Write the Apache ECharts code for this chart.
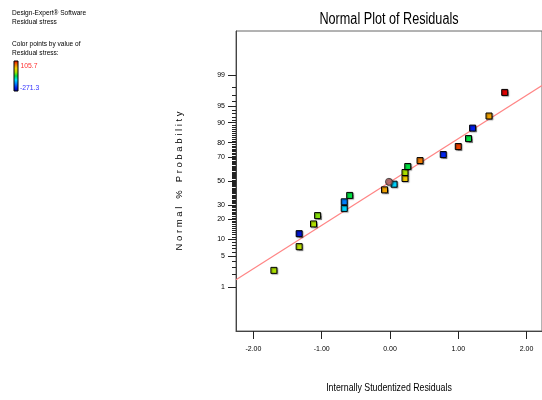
<!DOCTYPE html>
<html>
<head>
<meta charset="utf-8">
<script src="https://cdn.jsdelivr.net/npm/echarts@6/dist/echarts.min.js"></script>
<style>html,body{margin:0;padding:0;background:#fff;}#chart{width:542px;height:400px;}</style>
</head>
<body>
<div id="chart"></div>
<script>
// ---- data ----
const residuals     = [-1.70, -1.33, -1.33, -1.12, -1.06, -0.67, -0.67, -0.59, -0.08, 0.06, 0.22, 0.22, 0.26, 0.44, 0.78, 1.00, 1.15, 1.21, 1.45, 1.68];
const probabilities = [2.5, 7.5, 12.4, 17.3, 22.4, 27.4, 32.4, 37.6, 42.3, 47.2, 52.2, 57.4, 62.5, 67.3, 71.9, 77.5, 82.4, 87.7, 92.3, 97.4];
const stressValues  = [-34, -23, -241, -30, -45, -136, -177, -83, 34, -136, 15, -34, -83, 53, -222, 79, -83, -226, 34, 105.7];
const highlightResidual = [-0.015];
const highlightProbability = [49.3];
const fitLineResiduals = [-2.255, 2.226];
const fitLineProbabilities = [1.52, 98.18];
const stressRange = [-271.3, 105.7];
const yTickLabels = [1, 5, 10, 20, 30, 50, 70, 80, 90, 95, 99];
const xTickValues = [-2, -1, 0, 1, 2];

// inverse normal CDF (probability paper scale)
function probit(p) {
  const a=[-3.969683028665376e+01,2.209460984245205e+02,-2.759285104469687e+02,1.383577518672690e+02,-3.066479806614716e+01,2.506628277459239e+00];
  const b=[-5.447609879822406e+01,1.615858368580409e+02,-1.556989798598866e+02,6.680131188771972e+01,-1.328068155288572e+01];
  const c=[-7.784894002430293e-03,-3.223964580411365e-01,-2.400758277161838e+00,-2.549732539343734e+00,4.374664141464968e+00,2.938163982698783e+00];
  const d=[7.784695709041462e-03,3.224671290700398e-01,2.445134137142996e+00,3.754408661907416e+00];
  const pl=0.02425, ph=1-pl; let q, r;
  if (p < pl) { q=Math.sqrt(-2*Math.log(p)); return (((((c[0]*q+c[1])*q+c[2])*q+c[3])*q+c[4])*q+c[5])/((((d[0]*q+d[1])*q+d[2])*q+d[3])*q+1); }
  if (p <= ph) { q=p-0.5; r=q*q; return (((((a[0]*r+a[1])*r+a[2])*r+a[3])*r+a[4])*r+a[5])*q/(((((b[0]*r+b[1])*r+b[2])*r+b[3])*r+b[4])*r+1); }
  q=Math.sqrt(-2*Math.log(1-p)); return -(((((c[0]*q+c[1])*q+c[2])*q+c[3])*q+c[4])*q+c[5])/((((d[0]*q+d[1])*q+d[2])*q+d[3])*q+1);
}
const z = p => probit(p / 100);

const majorZ = yTickLabels.map(z);
const minorZ = [];
for (let p = 2; p <= 98; p++) if (yTickLabels.indexOf(p) < 0) minorZ.push(z(p));

const FONT = '"Liberation Sans", Arial, sans-serif';
const palette = ['#0000a0','#0020f0','#0080ff','#00e0ff','#00e040','#a8e000','#f0d000','#f07000','#e00000'];

const pointData = residuals.map((x, i) => [x, z(probabilities[i]), stressValues[i]]);
const circleData = highlightResidual.map((x, i) => [x, z(highlightProbability[i])]);
const lineData = fitLineResiduals.map((x, i) => [x, z(fitLineProbabilities[i])]);

function narrowText(text, x, y, size, fill, scale, align) {
  return {type: 'text', x: x, y: y, scaleX: scale, silent: true,
    style: {x: 0, y: 0, text: text, fontFamily: FONT, fontSize: size, fill: fill,
      textAlign: align || 'left', textVerticalAlign: 'middle'}};
}

const chart = echarts.init(document.getElementById('chart'), null, {renderer: 'canvas'});
const yMin = -3.29, yMax = 3.29;
chart.setOption({
  animation: false,
  backgroundColor: '#fff',
  grid: {left: 236, top: 31, right: -2, bottom: 69, show: true, borderColor: '#666', borderWidth: 1, backgroundColor: 'transparent'},
  xAxis: {
    type: 'value', min: -2.255, max: 2.226,
    axisLine: {onZero: false, lineStyle: {color: '#444', width: 1}},
    axisTick: {show: true, inside: false, length: 8, customValues: xTickValues, lineStyle: {color: '#222'}},
    axisLabel: {customValues: xTickValues, margin: 15, fontFamily: FONT, fontSize: 7, color: '#000',
      formatter: v => v.toFixed(2)},
    splitLine: {show: false}
  },
  yAxis: [{
    type: 'value', min: yMin, max: yMax,
    name: 'N o r m a l   %   P r o b a b i l i t y', nameLocation: 'middle', nameGap: 52, nameRotate: 90,
    nameTextStyle: {fontFamily: FONT, fontSize: 9.5, color: '#000'},
    axisLine: {show: true, onZero: false, lineStyle: {color: '#444', width: 1}},
    axisTick: {show: true, length: 8, customValues: majorZ, lineStyle: {color: '#222'}},
    axisLabel: {customValues: majorZ, margin: 11, fontFamily: FONT, fontSize: 7, color: '#000',
      formatter: v => { let best = 0, bd = 1e9; majorZ.forEach((m, i) => { const dd = Math.abs(m - v); if (dd < bd) { bd = dd; best = i; } }); return String(yTickLabels[best]); }},
    splitLine: {show: false}
  }, {
    type: 'value', min: yMin, max: yMax, position: 'left',
    axisLine: {show: false, onZero: false},
    axisTick: {show: true, length: 4, customValues: minorZ, lineStyle: {color: '#222'}},
    axisLabel: {show: false},
    splitLine: {show: false}
  }],
  visualMap: {show: false, type: 'continuous', min: stressRange[0], max: stressRange[1], dimension: 2, seriesIndex: 1,
    inRange: {color: palette}},
  series: [{
    type: 'line', data: lineData, showSymbol: false, symbol: 'none', silent: true,
    lineStyle: {color: '#ff8585', width: 1.2}, z: 1
  }, {
    type: 'scatter', data: pointData, symbol: 'rect', symbolSize: 6,
    itemStyle: {borderColor: '#000', borderWidth: 1, opacity: 1, shadowColor: 'rgba(0,0,0,0.35)', shadowBlur: 1, shadowOffsetX: 1, shadowOffsetY: 1},
    z: 3
  }, {
    type: 'scatter', data: circleData, symbol: 'circle', symbolSize: 7,
    itemStyle: {color: '#b86262', borderColor: '#333', borderWidth: 1, shadowColor: 'rgba(0,0,0,0.35)', shadowBlur: 1, shadowOffsetX: 1, shadowOffsetY: 1},
    z: 3
  }],
  graphic: [
    narrowText('Normal Plot of Residuals', 389, 20, 16, '#000', 0.79, 'center'),
    narrowText('Internally Studentized Residuals', 389, 388, 11, '#000', 0.8, 'center'),
    narrowText('Design-Expert® Software', 12, 12.5, 8, '#000', 0.82),
    narrowText('Residual stress', 12, 21.5, 8, '#000', 0.82),
    narrowText('Color points by value of', 12, 44, 8, '#000', 0.82),
    narrowText('Residual stress:', 12, 53, 8, '#000', 0.82),
    {type: 'rect', shape: {x: 14, y: 61, width: 4, height: 30},
      style: {stroke: '#000', lineWidth: 1,
        fill: new echarts.graphic.LinearGradient(0, 1, 0, 0, palette.map((c, i) => ({offset: i / (palette.length - 1), color: c})))}},
    narrowText(String(stressRange[1]), 20.5, 65.5, 8, '#ff3030', 0.85),
    narrowText(String(stressRange[0]), 20, 87.5, 8, '#3030ff', 0.85)
  ]
});
</script>
</body>
</html>
